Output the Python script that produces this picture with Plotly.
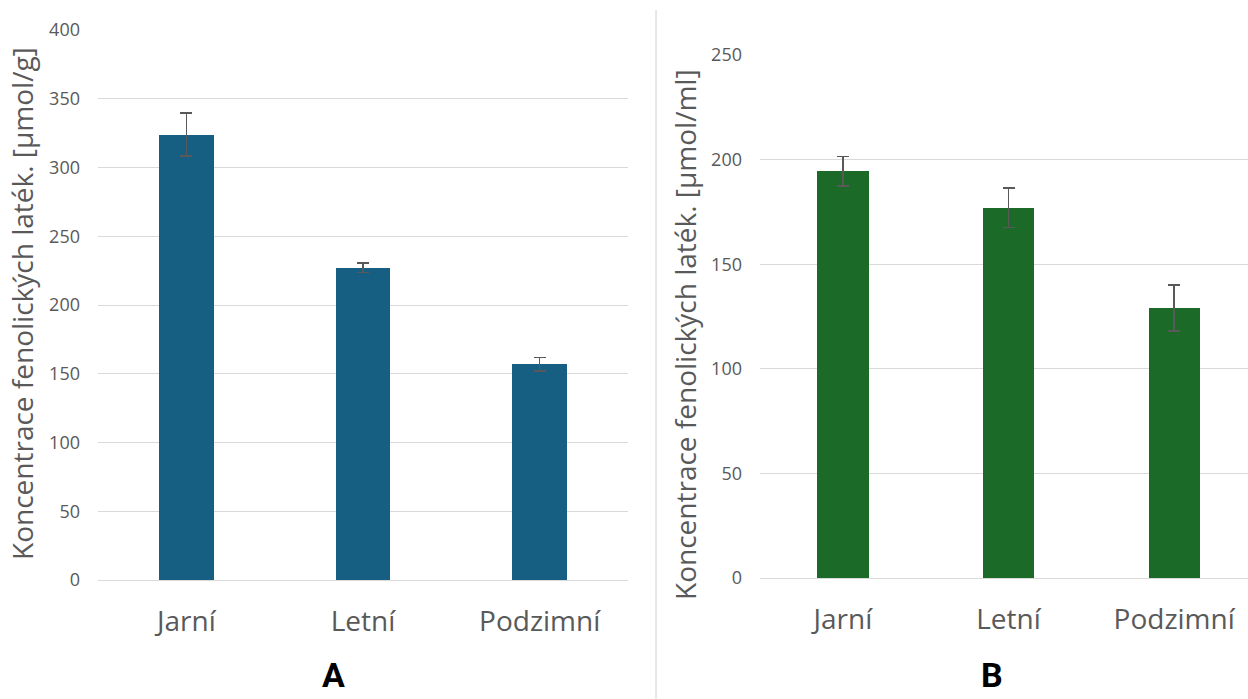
import plotly.graph_objects as go

# Seasonal phenolic content: A in µmol/g, B in µmol/ml
seasons = ["Jarní", "Letní", "Podzimní"]
conc_a = [324, 227, 157]
err_a = [15.5, 3.5, 5]
conc_b = [194.5, 177, 129]
err_b = [7, 9.5, 11]

W, H = 1248, 699
grey = "#595959"
font_family = "Open Sans, Noto Sans, sans-serif"

fig = go.Figure()

fig.add_trace(go.Bar(
    x=seasons, y=conc_a, width=0.31, marker_color="#175F82",
    marker_line_width=0,
    error_y=dict(type="data", array=err_a, color=grey, thickness=1.5, width=6),
    xaxis="x", yaxis="y", showlegend=False,
))
fig.add_trace(go.Bar(
    x=seasons, y=conc_b, width=0.31, marker_color="#1C6A28",
    marker_line_width=0,
    error_y=dict(type="data", array=err_b, color=grey, thickness=1.5, width=6),
    xaxis="x2", yaxis="y2", showlegend=False,
))

tickfont = dict(family=font_family, size=18, color=grey)
catfont = dict(family=font_family, size=28, color=grey)
titlefont = dict(family=font_family, size=28, color=grey)
panelfont = dict(family="Roboto, Liberation Sans, sans-serif", size=34, color="black")

# pixel helpers for domains
def px_x(p):
    return p / W

def px_y(p):
    return (H - p) / H

right_end = 2.5 - (1257 - W) / 165.5

common_x = dict(showgrid=False, showline=False, zeroline=False, ticks="",
                tickfont=catfont, ticklabelstandoff=22, automargin=False,
                fixedrange=True)
common_y = dict(dtick=50, showgrid=True, gridcolor="#d9d9d9", gridwidth=1,
                zeroline=True, zerolinecolor="#d9d9d9", zerolinewidth=1,
                showline=False, ticks="", tickfont=tickfont,
                ticklabelstandoff=17, automargin=False, fixedrange=True)

fig.update_layout(
    width=W, height=H,
    margin=dict(l=0, r=0, t=0, b=0, autoexpand=False),
    paper_bgcolor="white", plot_bgcolor="white",
    bargap=0,
    xaxis=dict(domain=[px_x(98), px_x(628)], anchor="y", range=[-0.5, 2.5], **common_x),
    yaxis=dict(domain=[px_y(580), px_y(30)], anchor="x", range=[0, 400], **common_y),
    xaxis2=dict(domain=[px_x(760), 1.0], anchor="y2", range=[-0.5, right_end], **common_x),
    yaxis2=dict(domain=[px_y(578), px_y(55)], anchor="x2", range=[0, 250], **common_y),
    shapes=[dict(type="line", xref="paper", yref="paper",
                 x0=px_x(656), x1=px_x(656), y0=0, y1=px_y(10),
                 line=dict(color="#d0d0d0", width=1))],
    annotations=[
        dict(text="Koncentrace fenolických laték. [µmol/g]", textangle=-90,
             xref="paper", yref="paper", x=px_x(22), y=px_y(304),
             xanchor="center", yanchor="middle", showarrow=False, font=titlefont),
        dict(text="Koncentrace fenolických laték. [µmol/ml]", textangle=-90,
             xref="paper", yref="paper", x=px_x(685), y=px_y(335),
             xanchor="center", yanchor="middle", showarrow=False, font=titlefont),
        dict(text="<b>A</b>", xref="paper", yref="paper",
             x=px_x(333), y=px_y(675), xanchor="center", yanchor="middle",
             borderpad=0, showarrow=False, font=panelfont),
        dict(text="<b>B</b>", xref="paper", yref="paper",
             x=px_x(992), y=px_y(675), xanchor="center", yanchor="middle",
             borderpad=0, showarrow=False, font=panelfont),
    ],
)

fig.write_html("out.html")
